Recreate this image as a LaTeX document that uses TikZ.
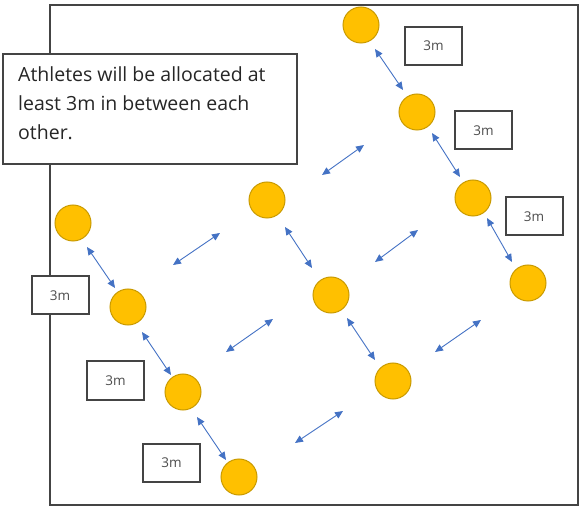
\documentclass[tikz,border=0pt]{standalone}
\usepackage{fontspec}
\setmainfont{Open Sans}
\usetikzlibrary{arrows.meta}
\definecolor{gold}{HTML}{FFC000}
\definecolor{goldedge}{HTML}{C99A00}
\definecolor{arrowblue}{HTML}{4472C4}
\definecolor{frame}{HTML}{444444}
\tikzset{
  athlete/.style={circle,draw=goldedge,fill=gold,line width=1pt,minimum size=36pt,inner sep=0pt},
  dist/.style={draw=frame,fill=white,line width=2pt,minimum width=57pt,minimum height=38pt,inner sep=0pt,font=\fontsize{13.5}{15}\selectfont,text=black!70},
  gap/.style={arrowblue,line width=0.9pt,{Triangle[length=8pt,width=7pt]}-{Triangle[length=8pt,width=7pt]}},
}
\begin{document}
\begin{tikzpicture}[x=1pt,y=-1pt]
\useasboundingbox (0,0) rectangle (582,508);
% outer frame
\draw[frame,line width=2pt] (50,5) rectangle (578,505);
% athletes
\node[athlete] (c1) at (361,25) {};
\node[athlete] (c2) at (417,112) {};
\node[athlete] (c3) at (473,198) {};
\node[athlete] (c4) at (528,283) {};
\node[athlete] (c5) at (73,223) {};
\node[athlete] (c6) at (128,307) {};
\node[athlete] (c7) at (183,392) {};
\node[athlete] (c8) at (239,477) {};
\node[athlete] (c9) at (267,200) {};
\node[athlete] (c10) at (331,295) {};
\node[athlete] (c11) at (393,381) {};
% distance labels
\node[dist] (b1) at (433.5,46) {3m};
\node[dist] (b2) at (483.5,130.5) {3m};
\node[dist] (b3) at (534,216.5) {3m};
\node[dist] (b4) at (60,295.5) {3m};
\node[dist] (b5) at (115.5,380.5) {3m};
\node[dist] (b6) at (171.5,463) {3m};
% chain arrows
\coordinate (p1a) at (375,49);  \coordinate (p1b) at (403,90);
\coordinate (p2a) at (432,133); \coordinate (p2b) at (460,177);
\coordinate (p3a) at (487,218); \coordinate (p3b) at (512,262);
\coordinate (p4a) at (87,247);  \coordinate (p4b) at (115,288);
\coordinate (p5a) at (142,332); \coordinate (p5b) at (171,375);
\coordinate (p6a) at (197,417); \coordinate (p6b) at (226,460);
\coordinate (p7a) at (285,227); \coordinate (p7b) at (312,268);
\coordinate (p8a) at (347,318); \coordinate (p8b) at (375,360);
\foreach \i in {1,...,8} \draw[gap] (p\i a) -- (p\i b);
% cross arrows
\coordinate (q1a) at (322,175); \coordinate (q1b) at (364,145);
\coordinate (q2a) at (375,262); \coordinate (q2b) at (418,230);
\coordinate (q3a) at (435,352); \coordinate (q3b) at (481,320);
\coordinate (q4a) at (173,265); \coordinate (q4b) at (220,233);
\coordinate (q5a) at (226,352); \coordinate (q5b) at (273,319);
\coordinate (q6a) at (295,443); \coordinate (q6b) at (343,411);
\foreach \i in {1,...,6} \draw[gap] (q\i a) -- (q\i b);
% note box
\node[draw=frame,fill=white,line width=2.2pt,minimum width=294pt,minimum height=110pt,
      anchor=north west,inner sep=0pt] (note) at (2,53) {};
\node[anchor=base west,align=left,inner sep=0pt,
      font=\fontsize{19.5}{29}\selectfont,text=black!85] (notetext) at (18,140)
  {Athletes will be allocated at\\least 3m in between each\\other.};
\end{tikzpicture}
\end{document}
